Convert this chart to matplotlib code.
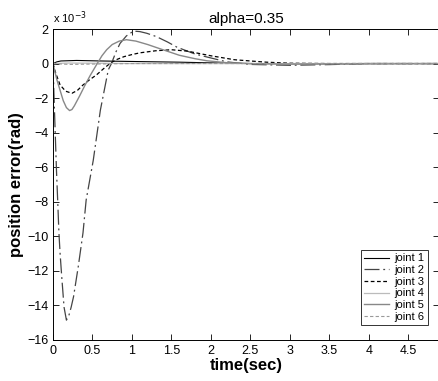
import matplotlib
matplotlib.use("Agg")
import matplotlib.pyplot as plt

plt.rcParams['font.family'] = ['Liberation Sans', 'DejaVu Sans']

# position error in units of 1e-3 rad
t2 = [0, 0.01, 0.025, 0.045, 0.06, 0.075, 0.09, 0.11, 0.14, 0.17, 0.2, 0.23, 0.26, 0.32, 0.38,
      0.42, 0.51, 0.6, 0.7, 0.74, 0.8, 0.85, 0.93, 1.02, 1.1, 1.19, 1.31, 1.45, 1.57, 1.8, 1.95,
      2.2, 2.5, 3.0, 3.5, 4.0, 4.9]
e2 = [0, -1.5, -3.6, -6.3, -8.0, -9.8, -11.0, -12.3, -14.1, -14.85, -14.6, -14.1, -13.5, -11.75,
      -9.8, -7.9, -5.6, -2.7, -0.37, 0.0, 0.7, 1.17, 1.6, 1.88, 1.85, 1.75, 1.56, 1.25, 0.95, 0.55,
      0.38, 0.1, -0.05, -0.1, -0.06, 0, 0]

t5 = [0, 0.02, 0.05, 0.09, 0.13, 0.17, 0.21, 0.24, 0.27, 0.34, 0.4, 0.47, 0.56, 0.62, 0.68,
      0.75, 0.84, 0.93, 1.05, 1.2, 1.36, 1.6, 1.8, 1.95, 2.2, 2.5, 3.0, 4.0, 4.9]
e5 = [0, -0.4, -0.95, -1.55, -2.15, -2.55, -2.72, -2.66, -2.45, -1.85, -1.3, -0.7, 0.0, 0.45,
      0.8, 1.1, 1.3, 1.38, 1.3, 1.1, 0.85, 0.48, 0.28, 0.16, 0.05, 0, -0.03, 0, 0]

t3 = [0, 0.03, 0.09, 0.16, 0.24, 0.31, 0.38, 0.46, 0.55, 0.64, 0.72, 0.8, 0.9, 1.0, 1.1, 1.3,
      1.5, 1.7, 2.0, 2.3, 2.7, 3.0, 3.5, 4.9]
e3 = [0, -0.5, -1.24, -1.6, -1.72, -1.55, -1.24, -0.95, -0.66, -0.3, 0.0, 0.22, 0.4, 0.52,
      0.62, 0.74, 0.8, 0.72, 0.45, 0.22, 0.08, 0.02, 0, 0]

t1 = [0, 0.05, 0.1, 0.3, 0.6, 1.0, 1.6, 2.0, 2.5, 3.0, 4.9]
e1 = [0, 0.1, 0.15, 0.18, 0.15, 0.12, 0.08, 0.04, 0.0, -0.01, 0]

t4 = [0, 0.2, 0.5, 1.0, 2.0, 3.0, 4.9]
e4 = [0, 0.03, 0.02, 0.0, 0.0, 0.0, 0]

t6 = [0, 0.2, 0.5, 1.0, 2.0, 3.0, 4.9]
e6 = [0, -0.05, -0.03, 0.0, 0.0, 0.0, 0]

xticks = [0, 0.5, 1, 1.5, 2, 2.5, 3, 3.5, 4, 4.5]
yticks = [-16, -14, -12, -10, -8, -6, -4, -2, 0, 2]

fig = plt.figure(figsize=(4.39, 3.81), dpi=100)
ax = fig.add_axes([53 / 439, 1 - 340 / 381, 1 - 53 / 439, 311 / 381])

ax.plot(t1, e1, color='black', lw=0.8, label='joint 1')
ax.plot(t2, e2, color='#444444', lw=0.9, dashes=[12, 3, 1.5, 3], label='joint 2')
ax.plot(t3, e3, color='black', lw=0.9, dashes=[3, 2], label='joint 3')
ax.plot(t4, e4, color='#bbbbbb', lw=0.9, label='joint 4')
ax.plot(t5, e5, color='#888888', lw=1.0, label='joint 5')
ax.plot(t6, e6, color='#999999', lw=0.8, dashes=[3, 2], label='joint 6')

ax.set_xlim(0, 4.89)
ax.set_ylim(-16, 2)
ax.set_xticks(xticks)
ax.set_xticklabels([f'{v:g}' for v in xticks])
ax.set_yticks(yticks)
ax.tick_params(direction='in', top=True, right=True, labelsize=9, length=4, width=0.6)
for s in ax.spines.values():
    s.set_linewidth(0.7)

ax.text(0.0, 1.01, r'x 10$^{-3}$', transform=ax.transAxes, fontsize=8, va='bottom', ha='left')
ax.set_title('alpha=0.35', fontsize=11, pad=4)
ax.set_xlabel('time(sec)', fontsize=12, fontweight='bold', labelpad=1)
ax.set_ylabel('position error(rad)', fontsize=12, fontweight='bold', labelpad=2)

leg = ax.legend(loc='lower right', bbox_to_anchor=(0.985, 0.03), fontsize=8, frameon=True,
                fancybox=False, edgecolor='black', borderpad=0.3, labelspacing=0.15,
                handlelength=2.2, handletextpad=0.5)
leg.get_frame().set_linewidth(0.7)

fig.savefig('out.png', dpi=100)
